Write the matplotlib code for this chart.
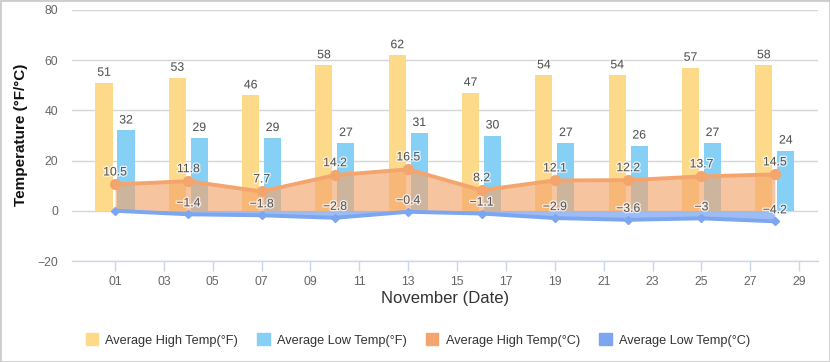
import matplotlib
matplotlib.use("Agg")
import matplotlib.pyplot as plt
import matplotlib.patheffects as pe
from matplotlib.patches import Patch, Rectangle

plt.rcParams['font.family'] = ['Liberation Sans', 'DejaVu Sans']

days = [1, 4, 7, 10, 13, 16, 19, 22, 25, 28]
high_f = [51, 53, 46, 58, 62, 47, 54, 54, 57, 58]
low_f = [32, 29, 29, 27, 31, 30, 27, 26, 27, 24]
high_c = [10.5, 11.8, 7.7, 14.2, 16.5, 8.2, 12.1, 12.2, 13.7, 14.5]
low_c = [0, -1.4, -1.8, -2.8, -0.4, -1.1, -2.9, -3.6, -3, -4.2]
tick_days = list(range(1, 30, 2))
tick_labels = ['%02d' % d for d in tick_days]

YELLOW = '#fdd98a'
SKY = '#86d0f5'
ORANGE = '#f4a56e'
BLUE = '#7ca6f0'
LABEL = '#555555'

W, H = 830, 362
fig = plt.figure(figsize=(W / 100, H / 100), dpi=100)
ax = fig.add_axes([72 / W, 1 - 261 / H, (818 - 72) / W, 251 / H])

outline = [pe.withStroke(linewidth=2, foreground='white', alpha=0.7)]


def label(x, y, text, dy=10):
    ax.annotate(text, (x, y), xytext=(0, dy), textcoords='offset pixels',
                ha='center', va='center', fontsize=8.8, color=LABEL,
                zorder=6, path_effects=outline)


off = 0.45
width = 0.70
hx = [d - off for d in days]
lx = [d + off for d in days]
ax.bar(hx, high_f, width=width, color=YELLOW, zorder=2)
ax.bar(lx, low_f, width=width, color=SKY, zorder=2)

ax.fill_between(days, high_c, 0, color=ORANGE, alpha=0.65, lw=0, zorder=3)
ax.plot(days, high_c, color=ORANGE, lw=2.8, marker='o', ms=7, zorder=4)
ax.fill_between(days, low_c, 0, color=BLUE, alpha=0.75, lw=0, zorder=3)
ax.plot(days, low_c, color=BLUE, lw=2.8, marker='D', ms=4.5, zorder=4)

for x, v in zip(hx, high_f):
    label(x, v, str(v))
for x, v in zip(lx, low_f):
    label(x, v, str(v))
for x, v in zip(days, high_c):
    label(x, v, '%g' % v, dy=12)
for x, v in zip(days, low_c):
    if v != 0:
        label(x, v, ('%g' % v).replace('-', '\u2212'), dy=11)

ax.set_xlim(-0.76, 29.77)
ax.set_ylim(-20, 80)
ax.set_yticks(range(-20, 81, 20))
ax.set_xticks(tick_days)
ax.set_xticklabels(tick_labels)
ax.tick_params(axis='x', direction='out', length=7.5, width=1, color='#ccd6eb',
               labelsize=8.8, labelcolor='#666666', pad=3)
ax.tick_params(axis='y', length=0, labelsize=8.8, labelcolor='#666666', pad=10)
ax.grid(axis='y', color='#d6d6d6', lw=1, zorder=0)
ax.set_axisbelow(True)
for s in ['top', 'right', 'left']:
    ax.spines[s].set_visible(False)
ax.spines['bottom'].set_color('#ccd6eb')
ax.spines['bottom'].set_linewidth(1)

fig.text(21 / W, 1 - 135 / H, 'Temperature (°F/°C)', rotation=90, ha='center',
         va='center', fontsize=11, fontweight='bold', color='#111111')
fig.text(445 / W, 1 - 298 / H, 'November (Date)', ha='center', va='center',
         fontsize=12, color='#333333')

handles = [Patch(color=YELLOW), Patch(color=SKY), Patch(color=ORANGE), Patch(color=BLUE)]
names = ['Average High Temp(°F)', 'Average Low Temp(°F)',
         'Average High Temp(°C)', 'Average Low Temp(°C)']
fig.legend(handles, names, loc='center', bbox_to_anchor=(418 / W, 1 - 340 / H),
           ncol=4, frameon=False, fontsize=9.2, handlelength=0.95, handleheight=1,
           handletextpad=0.6, columnspacing=1.5, labelcolor='#333333')

fig.patches.append(Rectangle((0, 0), 1, 1, transform=fig.transFigure, fill=False,
                             edgecolor='#cccccc', lw=2))

fig.savefig('out.png', dpi=100)
